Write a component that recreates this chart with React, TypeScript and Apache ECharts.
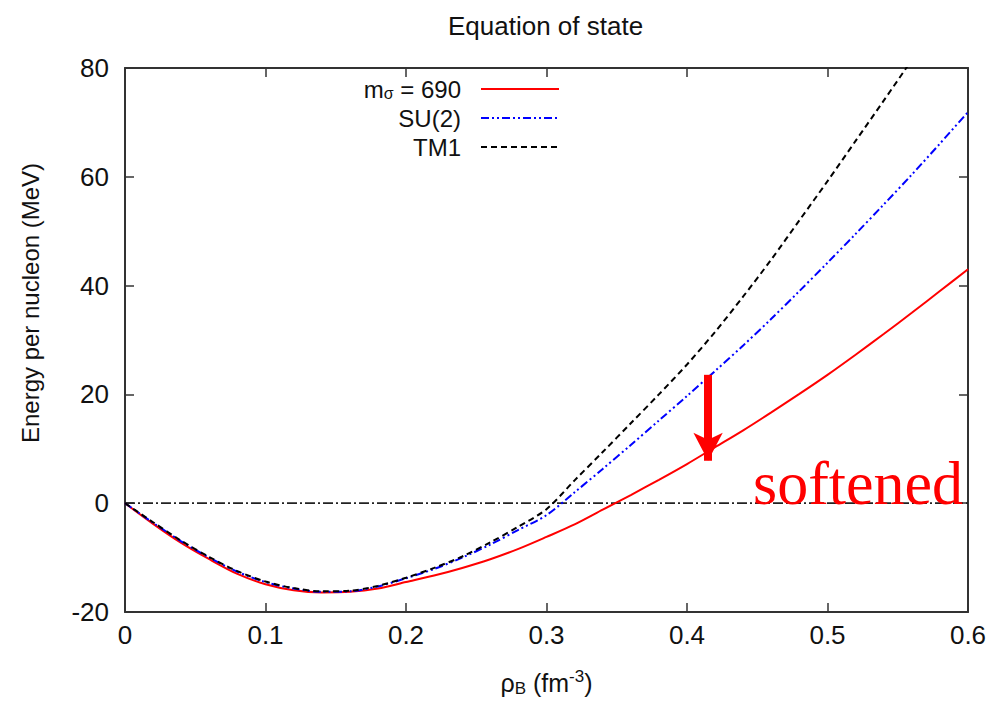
import React, { useEffect, useRef } from 'react';
import * as echarts from 'echarts';

// Baryon density rho_B (fm^-3)
const rho = [
  0, 0.02, 0.04, 0.06, 0.08, 0.1, 0.12, 0.14, 0.16, 0.18, 0.2,
  0.22, 0.24, 0.26, 0.28, 0.3, 0.32, 0.34, 0.36, 0.38, 0.4,
  0.42, 0.44, 0.46, 0.48, 0.5, 0.52, 0.54, 0.56, 0.58, 0.6,
];
// Energy per nucleon (MeV)
const eSigma690 = [
  0, -3.8, -7.3, -10.3, -13.0, -14.9, -16.0, -16.4, -16.3, -15.7, -14.5,
  -13.3, -11.9, -10.3, -8.4, -6.2, -3.9, -1.2, 1.5, 4.3, 7.2,
  10.3, 13.4, 16.7, 20.1, 23.6, 27.3, 31.1, 35.0, 39.0, 43.0,
];
const eSU2 = [
  0, -3.6, -7.0, -10.0, -12.6, -14.5, -15.7, -16.3, -16.2, -15.3, -13.8,
  -12.1, -10.0, -7.6, -4.9, -2.2, 2.0, 6.3, 10.7, 15.2, 19.7,
  24.3, 29.0, 33.9, 39.0, 44.2, 49.5, 54.9, 60.4, 66.1, 71.9,
];
const eTM1 = [
  0, -3.5, -6.9, -9.9, -12.5, -14.4, -15.6, -16.2, -16.1, -15.2, -13.7,
  -11.9, -9.8, -7.2, -4.3, -1.1, 4.2, 9.4, 14.7, 20.0, 25.5,
  31.5, 38.0, 44.8, 52.0, 59.2, 66.6, 74.0, 81.5, 89.2, 97.0,
];
const zeroLineX = [0, 0.6];
const zeroLineY = [0, 0];
// Arrow annotation (data coordinates)
const arrowX = 0.415;
const arrowFrom = 23.6;
const arrowTo = 7.8;

const seriesNames = ['mσ = 690', 'SU(2)', 'TM1'];
const FONT = '"Liberation Sans", Arial, sans-serif';
const TXT = '#111111';
const AXIS = '#333333';

export default function App() {
  const ref = useRef<HTMLDivElement>(null);
  useEffect(() => {
    const chart = echarts.init(ref.current!, null, { renderer: 'svg' });
    const pairs = (xs: number[], ys: number[]) => xs.map((x, i) => [x, ys[i]]);
    const axisLine = { show: true, onZero: false, lineStyle: { color: AXIS, width: 2 } };
    const tick = { show: true, inside: true, length: 9, lineStyle: { color: AXIS, width: 1.5 } };
    chart.setOption({
      animation: false,
      backgroundColor: '#ffffff',
      title: {
        text: 'Equation of state',
        left: 443,
        top: 8,
        textStyle: { fontFamily: FONT, fontSize: 26, fontWeight: 'normal', color: TXT },
      },
      grid: { left: 125, right: 29, top: 68, bottom: 89, containLabel: false },
      legend: {
        data: seriesNames,
        orient: 'vertical',
        align: 'right',
        right: 437,
        top: 77,
        itemWidth: 78,
        itemHeight: 14,
        itemGap: 5,
        padding: 0,
        itemStyle: { opacity: 0 },
        formatter: (name: string) =>
          name === seriesNames[0] ? '{m|m}{s|σ}{m| = 690}' : `{m|${name}}`,
        textStyle: {
          fontFamily: FONT,
          color: TXT,
          padding: [0, 15, 0, 0],
          rich: {
            m: { fontFamily: FONT, fontSize: 24, color: TXT, lineHeight: 24 },
            s: { fontFamily: FONT, fontSize: 16, color: TXT, lineHeight: 24, padding: [8, 0, 0, 0] },
          },
        },
      },
      xAxis: [
        {
          type: 'value',
          min: 0,
          max: 0.6,
          interval: 0.1,
          position: 'bottom',
          axisLine,
          axisTick: tick,
          splitLine: { show: false },
          axisLabel: {
            margin: 10,
            fontFamily: FONT,
            fontSize: 26,
            color: TXT,
            formatter: (v: number) => (Math.abs(v) < 1e-9 ? '0' : String(Math.round(v * 10) / 10)),
          },
          name: '{n|ρ}{sub|B}{n| (fm}{sup|-3}{n|)}',
          nameLocation: 'middle',
          nameGap: 56,
          nameTextStyle: {
            fontFamily: FONT,
            color: TXT,
            rich: {
              n: { fontFamily: FONT, fontSize: 25, color: TXT },
              sub: { fontFamily: FONT, fontSize: 17, color: TXT, padding: [12, 0, 0, 0] },
              sup: { fontFamily: FONT, fontSize: 17, color: TXT, padding: [0, 0, 12, 0] },
            },
          },
        },
        {
          type: 'value',
          min: 0,
          max: 0.6,
          interval: 0.1,
          position: 'top',
          axisLine,
          axisTick: tick,
          splitLine: { show: false },
          axisLabel: { show: false },
        },
      ],
      yAxis: [
        {
          type: 'value',
          min: -20,
          max: 80,
          interval: 20,
          position: 'left',
          axisLine,
          axisTick: tick,
          splitLine: { show: false },
          axisLabel: { margin: 16, fontFamily: FONT, fontSize: 26, color: TXT },
        },
        {
          type: 'value',
          min: -20,
          max: 80,
          interval: 20,
          position: 'right',
          axisLine,
          axisTick: tick,
          splitLine: { show: false },
          axisLabel: { show: false },
        },
      ],
      graphic: [
        {
          type: 'text',
          x: 30,
          y: 303,
          rotation: Math.PI / 2,
          style: {
            text: 'Energy per nucleon (MeV)',
            font: `24px ${FONT}`,
            fill: TXT,
            align: 'center',
            verticalAlign: 'middle',
          },
        },
        {
          type: 'text',
          left: 753,
          top: 452,
          z: 100,
          style: {
            text: 'softened',
            font: '62px "Liberation Serif", "Times New Roman", serif',
            fill: '#ff0000',
          },
        },
      ],
      series: [
        {
          name: 'zero',
          type: 'line',
          data: pairs(zeroLineX, zeroLineY),
          showSymbol: false,
          symbol: 'none',
          silent: true,
          lineStyle: { color: '#222', width: 1.8, type: [10, 3, 2, 3] },
        },
        {
          name: seriesNames[0],
          type: 'line',
          data: pairs(rho, eSigma690),
          smooth: 0.3,
          showSymbol: false,
          symbol: 'none',
          lineStyle: { color: '#ff0000', width: 2 },
          itemStyle: { color: '#ff0000' },
          markLine: {
            silent: true,
            symbol: ['none', 'arrow'],
            symbolSize: [22, 28],
            label: { show: false },
            lineStyle: { color: '#ff0000', width: 8, type: 'solid' },
            data: [[{ coord: [arrowX, arrowFrom] }, { coord: [arrowX, arrowTo] }]],
          },
        },
        {
          name: seriesNames[1],
          type: 'line',
          data: pairs(rho, eSU2),
          smooth: 0.3,
          showSymbol: false,
          symbol: 'none',
          lineStyle: { color: '#0000ff', width: 2, type: [8, 3, 2, 3, 2, 3] },
          itemStyle: { color: '#0000ff' },
        },
        {
          name: seriesNames[2],
          type: 'line',
          data: pairs(rho, eTM1),
          smooth: 0.3,
          showSymbol: false,
          symbol: 'none',
          lineStyle: { color: '#000000', width: 2, type: [6, 4] },
          itemStyle: { color: '#000000' },
        },
      ],
    });
    return () => chart.dispose();
  }, []);
  return (
    <div
      ref={ref}
      style={{ position: 'fixed', left: 0, top: 0, width: 997, height: 702, background: '#fff' }}
    />
  );
}
